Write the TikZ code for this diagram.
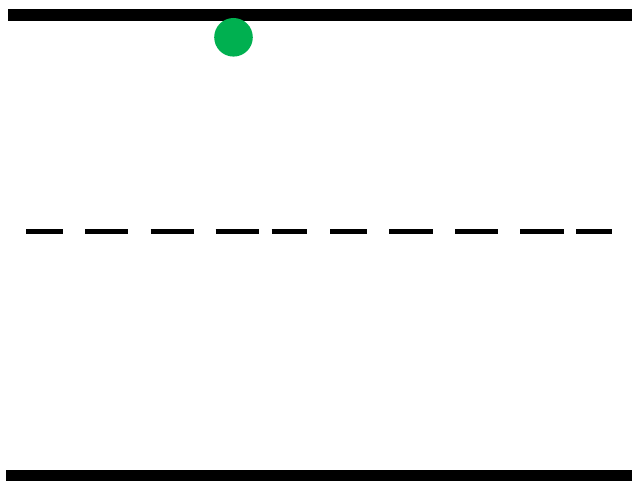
\documentclass[tikz,border=0pt]{standalone}
\definecolor{dotgreen}{RGB}{0,176,80}
\tikzset{
  bar/.style={fill=black, draw=none},
  dashseg/.style={draw=black, line width=4.2pt},
  dot/.style={circle, fill=dotgreen, draw=none, minimum size=38.6pt, inner sep=0pt}
}
\begin{document}
\begin{tikzpicture}[x=1pt,y=-1pt]
\useasboundingbox (0,0) rectangle (632,481);
\fill[white] (0,0) rectangle (632,481);
% top and bottom bars
\path[bar] (8,9.3) rectangle (632,20.7);
\path[bar] (6,470.3) rectangle (632,481);
% green dot
\node[dot] (g) at (233.5,37.3) {};
% dashed line (two identical halves)
\foreach \o in {0,304.3}{
  \foreach \a/\b in {26/63, 85/128.3, 150.7/194, 215.7/259.3, 271.7/307.3}{
    \draw[dashseg] (\a+\o,231.5) -- (\b+\o,231.5);
  }
}
\end{tikzpicture}
\end{document}
